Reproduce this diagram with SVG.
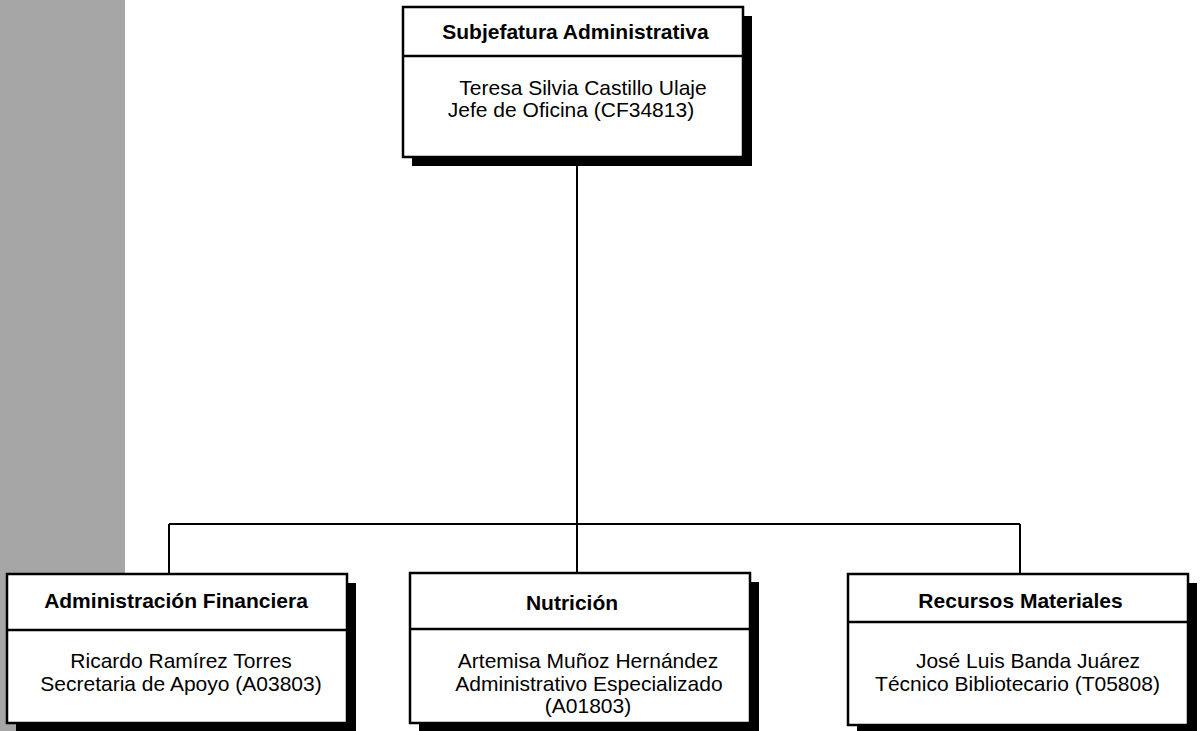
<svg xmlns="http://www.w3.org/2000/svg" width="1202" height="731" viewBox="0 0 1202 731">
<style>
.shadow{fill:#000}
.box{fill:#fff;stroke:#000;stroke-width:2.5}
.div{stroke:#000;stroke-width:2.5}
.conn{fill:none;stroke:#000;stroke-width:2}
text{font-family:"Liberation Sans",Arial,sans-serif;font-size:21px;fill:#000;text-anchor:middle}
.t{font-weight:bold}
</style>
<rect x="0" y="0" width="125" height="731" fill="#a6a6a6"/>
<g id="connectors">
<path class="conn" d="M577 157 V524"/>
<path class="conn" d="M169 524 H1020"/>
<path class="conn" d="M169 524 V574"/>
<path class="conn" d="M577 524 V573"/>
<path class="conn" d="M1020 524 V574"/>
</g>
<g id="subjefatura">
<rect class="shadow" x="412" y="16" width="340" height="150"/>
<rect class="box" x="403" y="7" width="340" height="150"/>
<line class="div" x1="403" y1="56" x2="743" y2="56"/>
<text class="t" x="575.5" y="39">Subjefatura Administrativa</text>
<text x="583" y="95">Teresa Silvia Castillo Ulaje</text>
<text x="571" y="117">Jefe de Oficina (CF34813)</text>
</g>
<g id="admin-financiera">
<rect class="shadow" x="16" y="583" width="340" height="150"/>
<rect class="box" x="7" y="574" width="340" height="149"/>
<line class="div" x1="7" y1="630" x2="347" y2="630"/>
<text class="t" x="176" y="608">Administración Financiera</text>
<text x="181" y="668">Ricardo Ramírez Torres</text>
<text x="181" y="691">Secretaria de Apoyo (A03803)</text>
</g>
<g id="nutricion">
<rect class="shadow" x="419" y="582" width="340" height="150"/>
<rect class="box" x="410" y="573" width="340" height="150"/>
<line class="div" x1="410" y1="629" x2="750" y2="629"/>
<text class="t" x="572" y="610">Nutrición</text>
<text x="588" y="668">Artemisa Muñoz Hernández</text>
<text x="589" y="691">Administrativo Especializado</text>
<text x="588" y="713">(A01803)</text>
</g>
<g id="recursos-materiales">
<rect class="shadow" x="857" y="583" width="340" height="151"/>
<rect class="box" x="848" y="574" width="340" height="151"/>
<line class="div" x1="848" y1="622" x2="1188" y2="622"/>
<text class="t" x="1020.5" y="608">Recursos Materiales</text>
<text x="1028" y="668">José Luis Banda Juárez</text>
<text x="1017.5" y="691">Técnico Bibliotecario (T05808)</text>
</g>
</svg>
